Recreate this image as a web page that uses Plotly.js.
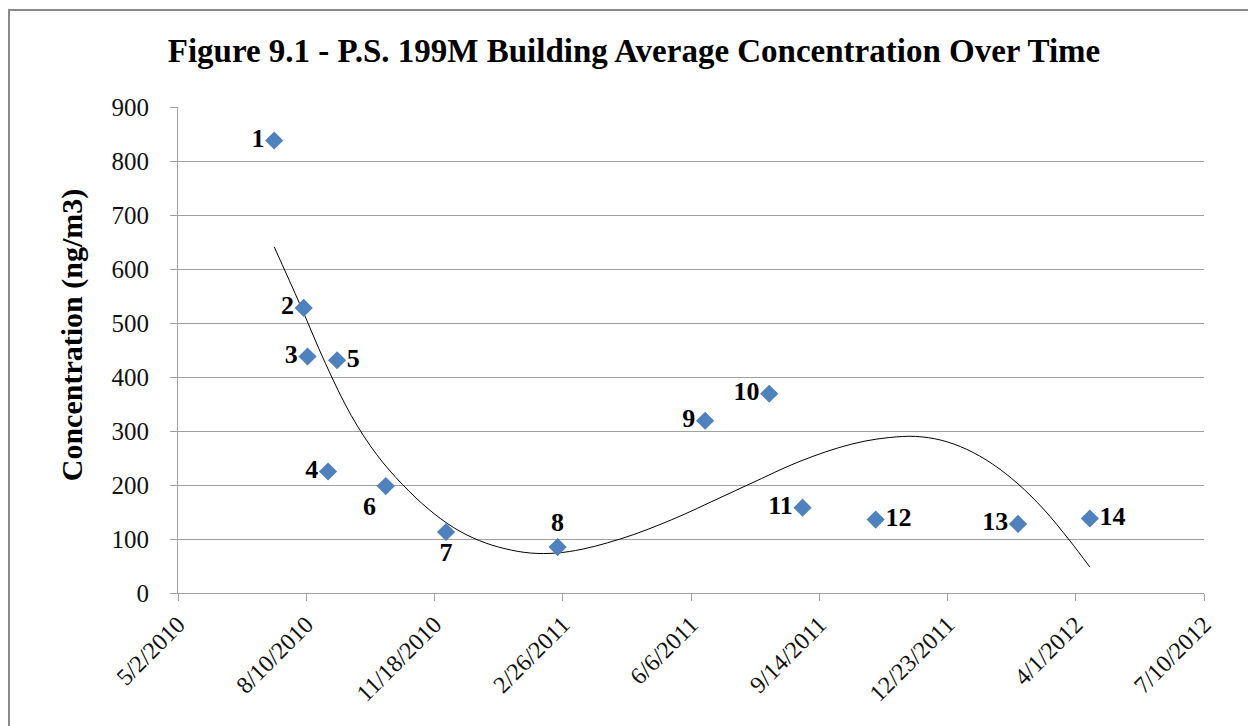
<!DOCTYPE html>
<html>
<head>
<meta charset="utf-8">
<script src="https://cdn.plot.ly/plotly-3.0.1.min.js"></script>
<style>
html,body{margin:0;padding:0;background:#fff;overflow:hidden;}
#chart{width:1248px;height:726px;}
</style>
</head>
<body>
<div id="chart"></div>
<script>
// Sample data
var sampleDates = ['2010-07-16','2010-08-08','2010-08-11','2010-08-27','2010-09-03','2010-10-11','2010-11-27',
                   '2011-02-22','2011-06-17','2011-08-06','2011-09-01','2011-10-28','2012-02-16','2012-04-12'];
var concentrations = [838, 528, 438, 225, 431, 198, 113, 85, 319, 369, 158, 136, 128, 138];
var pointLabels = ['1','2','3','4','5','6','7','8','9','10','11','12','13','14'];

// Trendline (polynomial)
var trendDates = ['2010-07-16','2010-08-05','2010-08-25','2010-09-14','2010-10-04','2010-10-24','2010-11-13',
                  '2010-12-03','2010-12-23','2011-01-12','2011-02-01','2011-02-21','2011-03-13','2011-04-02',
                  '2011-04-22','2011-05-12','2011-06-01','2011-06-21','2011-07-11','2011-07-31','2011-08-20',
                  '2011-09-09','2011-09-29','2011-10-19','2011-11-08','2011-11-28','2011-12-18','2012-01-07',
                  '2012-01-27','2012-02-16','2012-03-07','2012-03-27','2012-04-12'];
var trendValues = [641, 535, 425, 329, 256, 201, 156, 121, 97, 82, 74, 74, 81, 93,
                   108, 126, 146, 168, 190, 212, 234, 253, 269, 281, 288, 290, 283, 266,
                   239, 202, 155, 98, 48];

// Axis tick labels
var xTickLabels = ['5/2/2010','8/10/2010','11/18/2010','2/26/2011','6/6/2011','9/14/2011','12/23/2011','4/1/2012','7/10/2012'];

// label placement (style)
var labelPlacement = ['middle left','middle left','middle left','middle left','middle right','bottom left','bottom center',
                      'top center','middle left','middle left','middle left','middle right','middle left','middle right'];

function toIso(s){
  var p = s.split('/');
  var m = ('0'+p[0]).slice(-2), d = ('0'+p[1]).slice(-2);
  return p[2]+'-'+m+'-'+d;
}
var xTickVals = xTickLabels.map(toIso);

var serif = '"Liberation Serif", "Times New Roman", serif';
var grid = '#a0a0a0';

var traces = [
  {
    x: trendDates, y: trendValues, type: 'scatter', mode: 'lines',
    line: {color: '#000000', width: 1, shape: 'spline', smoothing: 1},
    hoverinfo: 'skip', showlegend: false
  },
  {
    x: sampleDates, y: concentrations, type: 'scatter', mode: 'markers+text',
    text: pointLabels, textposition: labelPlacement,
    textfont: {family: serif, size: 26, color: '#000000', weight: 'bold'},
    marker: {symbol: 'diamond', size: 14, color: '#4F81BD'},
    showlegend: false, cliponaxis: false
  }
];

var layout = {
  width: 1248, height: 726,
  paper_bgcolor: '#ffffff', plot_bgcolor: '#ffffff',
  margin: {l: 178, r: 44, t: 107, b: 133},
  showlegend: false,
  title: {
    text: '<b>Figure 9.1 - P.S. 199M Building Average Concentration Over Time</b>',
    font: {family: serif, size: 33, color: '#000000'},
    x: 634/1248, xanchor: 'center', xref: 'container',
    y: 1 - 50/726, yanchor: 'middle', yref: 'container'
  },
  xaxis: {
    type: 'date',
    range: [xTickVals[0], xTickVals[xTickVals.length-1]],
    tickmode: 'array', tickvals: xTickVals, ticktext: xTickLabels,
    tickangle: -45,
    tickfont: {family: serif, size: 24, color: '#111111'},
    ticks: 'outside', ticklen: 7, tickcolor: grid, tickwidth: 1,
    showline: true, linecolor: grid, linewidth: 1,
    showgrid: false, zeroline: false
  },
  yaxis: {
    range: [0, 900], dtick: 100, tick0: 0,
    tickfont: {family: serif, size: 25, color: '#111111'},
    ticks: 'outside', ticklen: 7, tickcolor: grid, tickwidth: 1,
    showline: true, linecolor: grid, linewidth: 1,
    showgrid: true, gridcolor: grid, gridwidth: 1,
    zeroline: false,
    ticklabelstandoff: 16,
    title: {
      text: '&nbsp;&nbsp;&nbsp;&nbsp;<b>Concentration (ng/m3)</b>',
      font: {family: serif, size: 30, color: '#000000'},
      standoff: 20
    }
  },
  shapes: [{
    type: 'rect', xref: 'paper', yref: 'paper',
    x0: (9-178)/1026, x1: 1.2, y0: -0.6, y1: (593-10)/486,
    line: {color: '#8a8a8a', width: 2}, fillcolor: 'rgba(0,0,0,0)', layer: 'below'
  }]
};

Plotly.newPlot('chart', traces, layout, {displayModeBar: false, staticPlot: true});
</script>
</body>
</html>
